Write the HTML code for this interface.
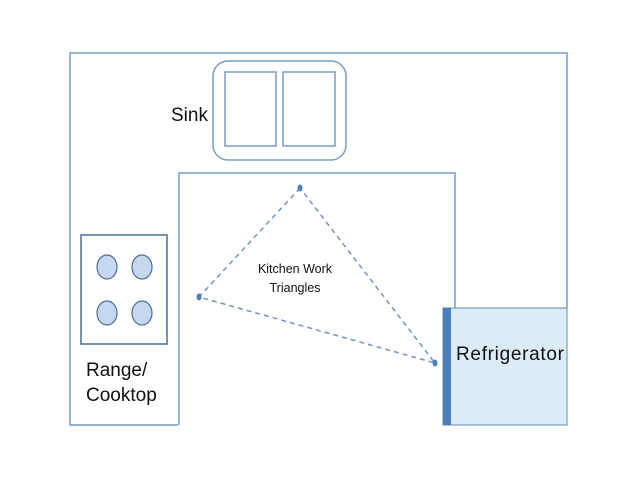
<!DOCTYPE html>
<html><head><style>
html,body{margin:0;padding:0;background:#fff;}
svg{display:block;}
text{font-family:"Liberation Sans",sans-serif;fill:#111;}
</style></head><body>
<svg width="638" height="479" viewBox="0 0 638 479" xmlns="http://www.w3.org/2000/svg">
<g fill="none" stroke="#7a9cc6" stroke-width="1.5">
<polyline points="178,425 70,425 70,53 567,53 567,308"/>
<polyline points="179,425 179,173 455,173 455,308"/>
<rect x="213" y="61" width="133" height="99" rx="15"/>
<rect x="225" y="72" width="51" height="74"/>
<rect x="283" y="72" width="52" height="74"/>
<rect x="81" y="235" width="86" height="109" stroke="#4a6f99"/>
</g>
<g fill="#c5d8ef" stroke="#4a6f99" stroke-width="1.2">
<ellipse cx="107" cy="267" rx="10" ry="12"/>
<ellipse cx="142" cy="267" rx="10" ry="12"/>
<ellipse cx="107" cy="313" rx="10" ry="12"/>
<ellipse cx="142" cy="313" rx="10" ry="12"/>
</g>
<rect x="443" y="308" width="124" height="117" fill="#dcecf6" stroke="#7a9cc6" stroke-width="1.2"/>
<rect x="443" y="308" width="8" height="117" fill="#4f7fb8"/>
<polygon points="300,188 199,297 435,363" fill="none" stroke="#6f95c4" stroke-width="1.5" stroke-dasharray="5,4"/>
<g fill="#4f7fb8">
<ellipse cx="300" cy="188" rx="2.5" ry="3.5"/>
<ellipse cx="199" cy="297" rx="2.5" ry="3.5"/>
<ellipse cx="435" cy="363" rx="2.5" ry="3.5"/>
</g>
<text x="171" y="121" font-size="19">Sink</text>
<text x="86" y="376" font-size="19">Range/</text>
<text x="86" y="401" font-size="19">Cooktop</text>
<text x="456" y="360" font-size="19" textLength="108">Refrigerator</text>
<text x="295" y="273" font-size="12.5" text-anchor="middle">Kitchen Work</text>
<text x="295" y="292" font-size="12.5" text-anchor="middle">Triangles</text>
</svg>
</body></html>
